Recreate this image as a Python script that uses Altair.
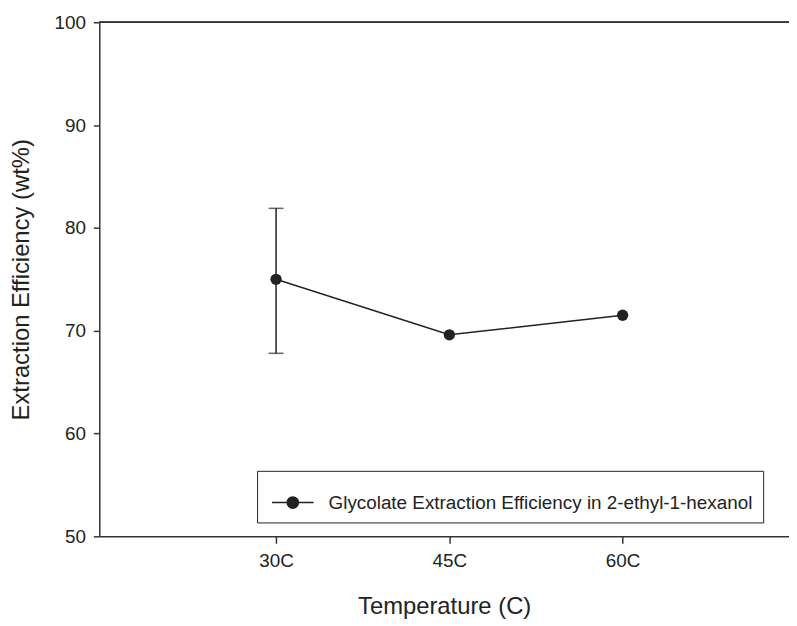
import altair as alt
import pandas as pd

# ---- data ----
temps = ["30C", "45C", "60C"]
efficiency = [75.0, 69.6, 71.5]
err_temps = ["30C"]
err_low = [67.8]
err_high = [81.9]
series_name = "Glycolate Extraction Efficiency in 2-ethyl-1-hexanol"
y_ticks = [50, 60, 70, 80, 90, 100]

pos = {t: i + 1 for i, t in enumerate(temps)}
df = pd.DataFrame({"temp": temps, "x": [pos[t] for t in temps],
                   "eff": efficiency, "series": series_name})
df_err = pd.DataFrame({"temp": err_temps, "x": [pos[t] for t in err_temps],
                       "lo": err_low, "hi": err_high})

FONT = "Liberation Sans"
INK = "#222222"
label_expr = "[''," + ",".join("'%s'" % t for t in temps) + "][datum.value] || ''"

xscale = alt.Scale(domain=[-0.02, 3.96], nice=False, zero=False)
yscale = alt.Scale(domain=[50, 100], nice=False, zero=False)

X_TITLE = "Temperature (C)"
Y_TITLE = "Extraction Efficiency (wt%)"
x_axis = alt.Axis(values=[1, 2, 3], labelExpr=label_expr, title=X_TITLE,
                  grid=False, tickSize=7, labelPadding=8, titlePadding=25)
y_axis = alt.Axis(values=y_ticks, title=Y_TITLE, grid=False,
                  tickSize=6, labelPadding=8, titlePadding=21)

base = alt.Chart(df)

line = base.mark_line(color=INK, strokeWidth=1.5).encode(
    x=alt.X("x:Q", scale=xscale, axis=x_axis, title=X_TITLE),
    y=alt.Y("eff:Q", scale=yscale, axis=y_axis, title=Y_TITLE),
)

err = alt.Chart(df_err).mark_errorbar(ticks={"size": 15}, color=INK, thickness=1.5).encode(
    x=alt.X("x:Q", scale=xscale, axis=x_axis, title=X_TITLE),
    y=alt.Y("lo:Q", scale=yscale, axis=y_axis, title=Y_TITLE),
    y2="hi:Q",
)

legend_path = ("M-1,0L1,0M-0.27,0a0.27,0.27 0 1,0 0.54,0a0.27,0.27 0 1,0 -0.54,0Z")

points = base.mark_point(filled=True, size=130, opacity=1).encode(
    x=alt.X("x:Q", scale=xscale, axis=x_axis, title=X_TITLE),
    y=alt.Y("eff:Q", scale=yscale, axis=y_axis, title=Y_TITLE),
    color=alt.Color("series:N", scale=alt.Scale(range=[INK]),
                    legend=alt.Legend(title=None, orient="none", legendX=159, legendY=452,
                                      symbolType=legend_path, symbolSize=1764,
                                      symbolStrokeColor=INK, symbolStrokeWidth=1.5,
                                      symbolFillColor=INK, labelFontSize=19, labelFont=FONT,
                                      labelColor=INK, labelOffset=14, padding=10,
                                      symbolOffset=4,
                                      strokeColor=INK, labelLimit=0)),
)

top = alt.Chart(df).mark_rule(color="#333333", strokeWidth=1.5).encode(
    y=alt.datum(100, scale=yscale, axis=y_axis, title=Y_TITLE)
)

chart = alt.layer(line, err, points, top).properties(
    width=695, height=518,
    autosize=alt.AutoSizeParams(type="none"),
    padding={"left": 92, "top": 12, "right": 0, "bottom": 90},
).configure_view(stroke=None).configure_axis(
    labelFont=FONT, titleFont=FONT, labelFontSize=19, titleFontSize=24,
    labelColor=INK, titleColor=INK, titleFontWeight="normal",
    domainColor="#333333", tickColor="#333333", domainWidth=1.5, tickWidth=1.5,
)

chart.save("out.html", embed_options={"renderer": "svg", "actions": False})
